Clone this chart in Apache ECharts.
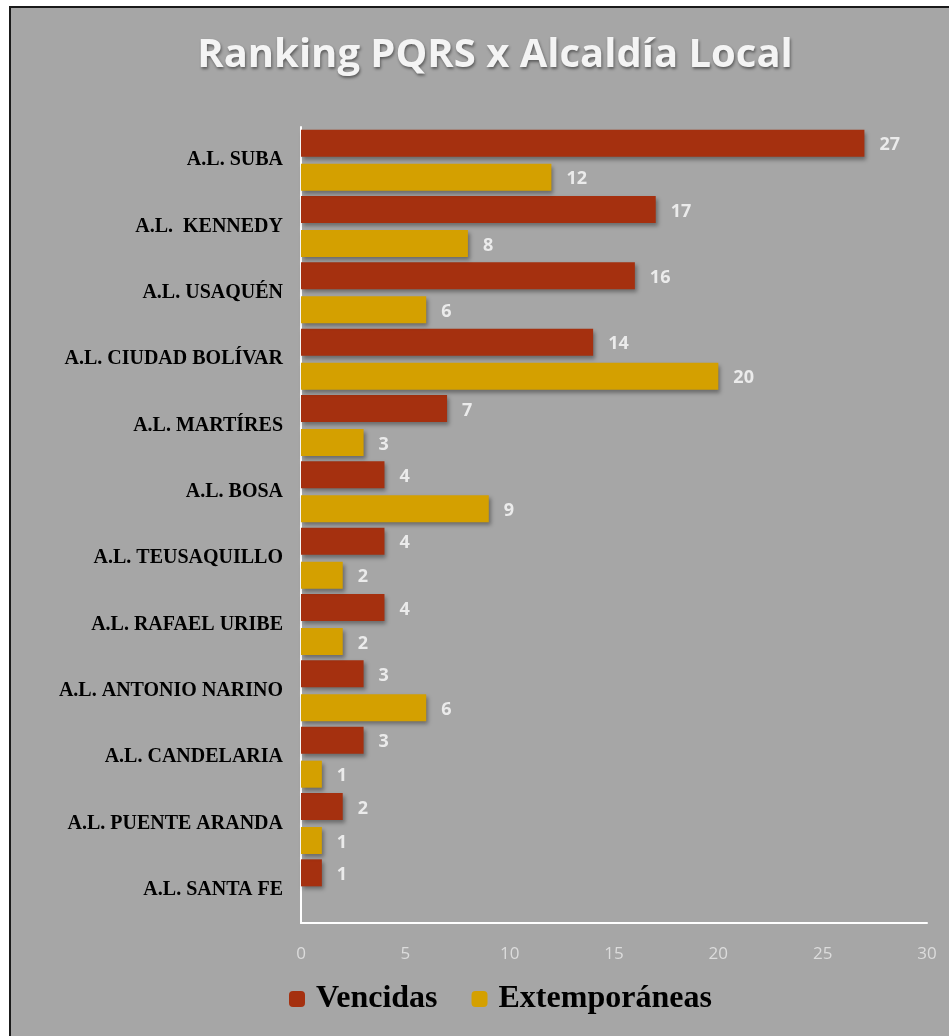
<!DOCTYPE html>
<html>
<head>
<meta charset="utf-8">
<script src="https://cdn.jsdelivr.net/npm/echarts@6/dist/echarts.min.js"></script>
<style>
html,body{margin:0;padding:0;background:#fff;}
#chart{width:949px;height:1036px;}
</style>
</head>
<body>
<div id="chart"></div>
<script>
const categories = ['A.L. SUBA','A.L.  KENNEDY','A.L. USAQUÉN','A.L. CIUDAD BOLÍVAR','A.L. MARTÍRES','A.L. BOSA','A.L. TEUSAQUILLO','A.L. RAFAEL URIBE','A.L. ANTONIO NARINO','A.L. CANDELARIA','A.L. PUENTE ARANDA','A.L. SANTA FE'];
const vencidas = [27,17,16,14,7,4,4,4,3,3,2,1];
const extemporaneas = [12,8,6,20,3,9,2,2,6,1,1,null];
const xTicks = [0,5,10,15,20,25,30];

const chart = echarts.init(document.getElementById('chart'));
const labelStyle = {show:true, position:'right', distance:15, offset:[0,2], color:'#ebebeb', fontFamily:'Open Sans', fontWeight:'bold', fontSize:18};
const shadow = {shadowBlur:4, shadowOffsetX:2, shadowOffsetY:3, shadowColor:'rgba(0,0,0,0.35)'};
chart.setOption({
  backgroundColor:'#ffffff',
  animation:false,
  graphic:[{type:'rect', z:-10, shape:{x:10,y:7,width:960,height:1060}, style:{fill:'#a6a6a6', stroke:'#1a1a1a', lineWidth:2}}],
  title:{text:'Ranking PQRS x Alcaldía Local', left:490, top:31, textAlign:'center',
    textStyle:{color:'#f4f4f4', fontFamily:'Open Sans', fontWeight:'bold', fontSize:40,
      textShadowColor:'rgba(0,0,0,0.45)', textShadowBlur:3, textShadowOffsetX:1, textShadowOffsetY:2}},
  legend:{bottom:16, left:284, itemWidth:16, itemHeight:16, itemGap:34,
    textStyle:{color:'#000', fontFamily:'Liberation Serif', fontWeight:'bold', fontSize:32, padding:[0,0,0,6]},
    data:['Vencidas','Extemporáneas']},
  grid:{left:301, right:22, top:127, bottom:113, containLabel:false},
  xAxis:{type:'value', min:0, max:30, interval:5,
    axisLine:{show:true, lineStyle:{color:'#ffffff', width:2}},
    axisTick:{show:false}, splitLine:{show:false},
    axisLabel:{color:'#dcdcdc', fontFamily:'Open Sans', fontSize:17, margin:23,
      formatter:v=>xTicks.includes(v)?String(v):''}},
  yAxis:{type:'category', inverse:true, data:categories,
    axisLine:{show:true, lineStyle:{color:'#ffffff', width:2}},
    axisTick:{show:false},
    axisLabel:{color:'#000', fontFamily:'Liberation Serif', fontWeight:'bold', fontSize:20, margin:18}},
  series:[
    {name:'Vencidas', type:'bar', data:vencidas, barWidth:27, barGap:'26%',
      itemStyle:Object.assign({color:'#a5300f'}, shadow), label:labelStyle},
    {name:'Extemporáneas', type:'bar', data:extemporaneas, barWidth:27, barGap:'26%',
      itemStyle:Object.assign({color:'#d4a000'}, shadow), label:labelStyle}
  ]
});
</script>
</body>
</html>
